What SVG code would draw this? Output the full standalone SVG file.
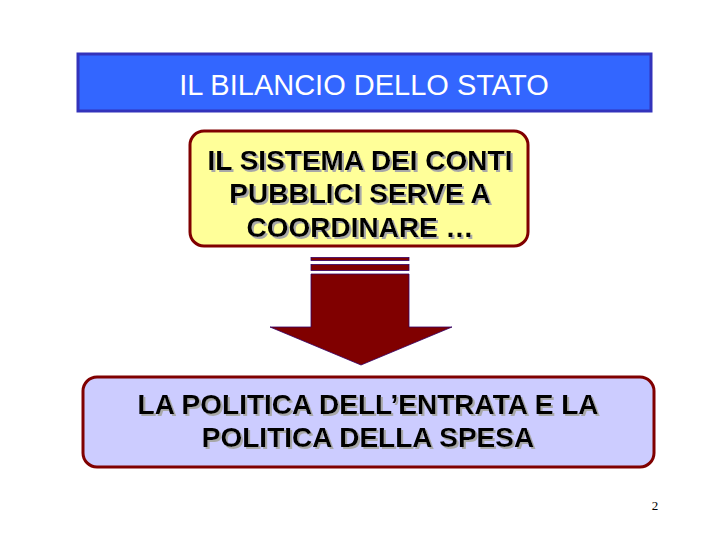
<svg xmlns="http://www.w3.org/2000/svg" width="720" height="540" viewBox="0 0 720 540">
<defs>
<filter id="shadow" x="-5%" y="-20%" width="110%" height="140%">
<feDropShadow dx="2" dy="2" stdDeviation="0.3" flood-color="#a8a8a8"/>
</filter>
</defs>
<style>
.t{font-family:"Liberation Sans",Arial,sans-serif;text-anchor:middle}
.b{font-weight:bold;font-size:28px;fill:#000;filter:url(#shadow)}
.box{stroke:#800000;stroke-width:3}
</style>
<rect width="720" height="540" fill="#fff"/>
<g id="title">
<rect x="78" y="54" width="573" height="57" fill="#3366ff" stroke="#3333bb" stroke-width="3"/>
<text class="t" x="364" y="95" font-size="29" fill="#fff">IL BILANCIO DELLO STATO</text>
</g>
<g id="sistema">
<rect class="box" x="190" y="131" width="338" height="115" rx="14" fill="#ffff99"/>
<text class="t b" x="360" y="170">IL SISTEMA DEI CONTI</text>
<text class="t b" x="360" y="203">PUBBLICI SERVE A</text>
<text class="t b" x="360" y="237">COORDINARE …</text>
</g>
<g id="connectors">
<rect x="311" y="257.5" width="98" height="3" fill="#800000" stroke="#330066" stroke-width="0.8"/>
<rect x="311" y="264.5" width="98" height="6" fill="#800000" stroke="#330066" stroke-width="0.8"/>
<polygon points="311,274 409,274 409,327 452,327 361,365 270,327 311,327" fill="#800000" stroke="#330066" stroke-width="0.8"/>
</g>
<g id="politica">
<rect class="box" x="83" y="377" width="571" height="90" rx="14" fill="#ccccff"/>
<text class="t b" x="368" y="414">LA POLITICA DELL’ENTRATA E LA</text>
<text class="t b" x="368" y="447">POLITICA DELLA SPESA</text>
</g>
<text x="655" y="510" font-family="Liberation Serif,serif" font-size="13" text-anchor="middle" fill="#000">2</text>
</svg>
